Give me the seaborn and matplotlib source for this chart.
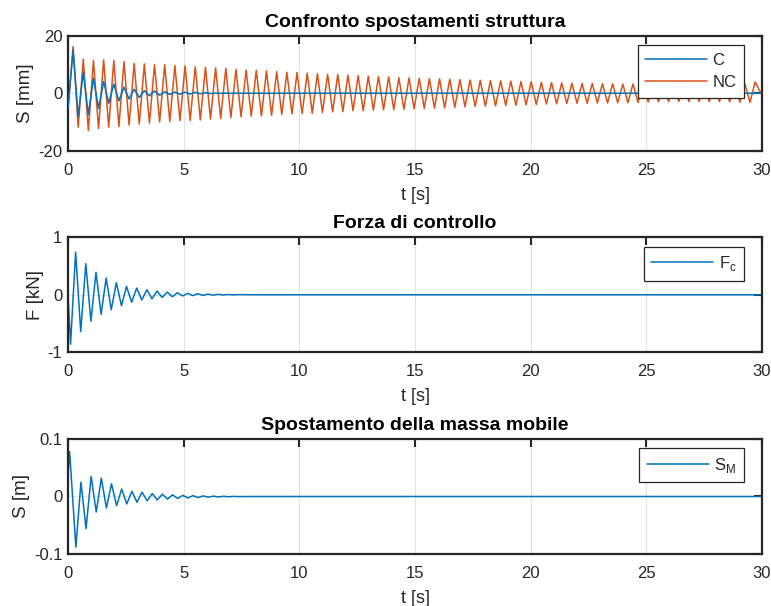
import matplotlib
matplotlib.use("Agg")
import matplotlib.pyplot as plt
import seaborn as sns

# extrema (time [s], value)
nc_t = [0.00, 0.22, 0.44, 0.66, 0.88, 1.10, 1.32, 1.54, 1.76, 1.98, 2.20, 2.42, 2.64, 2.86, 3.08,
        3.30, 3.52, 3.74, 3.96, 4.18, 4.40, 4.62, 4.84, 5.06, 5.28, 5.50, 5.72, 5.94, 6.16, 6.38,
        6.60, 6.82, 7.04, 7.26, 7.48, 7.70, 7.92, 8.14, 8.36, 8.58, 8.80, 9.02, 9.24, 9.46, 9.68,
        9.90, 10.12, 10.34, 10.56, 10.78, 11.00, 11.22, 11.44, 11.66, 11.88, 12.10, 12.32, 12.54,
        12.76, 12.98, 13.20, 13.42, 13.64, 13.86, 14.08, 14.30, 14.52, 14.74, 14.96, 15.18, 15.40,
        15.62, 15.84, 16.06, 16.28, 16.50, 16.72, 16.94, 17.16, 17.38, 17.60, 17.82, 18.04, 18.26,
        18.48, 18.70, 18.92, 19.14, 19.36, 19.58, 19.80, 20.02, 20.24, 20.46, 20.68, 20.90, 21.12,
        21.34, 21.56, 21.78, 22.00, 22.22, 22.44, 22.66, 22.88, 23.10, 23.32, 23.54, 23.76, 23.98,
        24.20, 24.42, 24.64, 24.86, 25.08, 25.30, 25.52, 25.74, 25.96, 26.18, 26.40, 26.62, 26.84,
        27.06, 27.28, 27.50, 27.72, 27.94, 28.16, 28.38, 28.60, 28.82, 29.04, 29.26, 29.48, 29.70,
        30.00]
nc_s = [-5.6, 16.2, -11.8, 11.8, -13.0, 11.4, -12.3, 11.6, -11.8, 11.4, -11.6, 11.0, -11.1, 10.4, -10.7,
        10.2, -10.4, 9.9, -10.0, 9.9, -9.9, 9.6, -9.5, 9.5, -9.5, 9.2, -9.3, 9.0, -9.0, 8.8,
        -8.8, 8.6, -8.5, 8.3, -8.2, 8.1, -8.0, 8.0, -7.9, 7.8, -7.7, 7.5, -7.4, 7.3, -7.2,
        7.2, -7.1, 7.0, -7.0, 6.8, -6.7, 6.6, -6.5, 6.5, -6.4, 6.3, -6.1, 6.1,
        -6.1, 5.9, -5.9, 5.8, -5.8, 5.7, -5.7, 5.4, -5.6, 5.3, -5.4, 5.2, -5.3,
        5.1, -5.2, 5.0, -5.1, 4.9, -4.9, 4.75, -4.75, 4.6, -4.6, 4.5, -4.5, 4.4,
        -4.4, 4.3, -4.3, 4.2, -4.2, 4.05, -4.05, 3.95, -3.95, 3.8, -3.8, 3.7, -3.7,
        3.6, -3.6, 3.5, -3.5, 3.4, -3.5, 3.4, -3.4, 3.3, -3.4, 3.3, -3.3, 3.2,
        -3.3, 3.2, -3.2, 3.1, -3.1, 3.0, -3.0, 3.0, -2.9, 2.9, -2.9, 2.9, -2.9,
        2.9, -2.9, 2.9, -2.9, 2.9, -2.9, 3.0, -3.0, 3.0, -3.1, 3.2, -3.2, 3.9,
        -0.7]

c_t = [0.00, 0.22, 0.44, 0.66, 0.88, 1.10, 1.32, 1.54, 1.76, 1.98, 2.20, 2.42, 2.64, 2.86, 3.08,
       3.30, 3.52, 3.74, 3.96, 4.18, 4.40, 4.62, 4.84, 5.06, 5.28, 5.50, 5.72, 5.94, 6.16, 6.38,
       6.60, 6.82, 7.04, 7.50, 30.00]
c_s = [-5.2, 15.1, -8.1, 7.4, -7.5, 5.2, -5.3, 4.1, -3.5, 3.2, -2.7, 2.1, -2.0, 1.4, -1.5,
       0.9, -0.9, 0.8, -0.7, 0.5, -0.45, 0.4, -0.35, 0.35, -0.3, 0.3, -0.2, 0.2, -0.12, 0.1,
       -0.06, 0.05, -0.03, 0.0, 0.0]

f_t = [0.00, 0.11, 0.33, 0.55, 0.77, 0.99, 1.21, 1.43, 1.65, 1.87, 2.09, 2.31, 2.53, 2.75, 2.97,
       3.19, 3.41, 3.63, 3.85, 4.07, 4.29, 4.51, 4.73, 4.95, 5.17, 5.39, 5.61, 5.83, 6.05, 6.27,
       6.49, 6.71, 6.93, 7.15, 7.37, 8.00, 30.00]
f_kn = [0.0, -0.86, 0.74, -0.64, 0.54, -0.46, 0.39, -0.34, 0.29, -0.26, 0.21, -0.19, 0.145, -0.13, 0.116,
        -0.09, 0.087, -0.07, 0.064, -0.046, 0.046, -0.035, 0.035, -0.02, 0.025, -0.015, 0.018, -0.01, 0.012, -0.007,
        0.008, -0.004, 0.005, -0.002, 0.003, 0.0, 0.0]

sm_t = [0.00, 0.07, 0.34, 0.56, 0.78, 1.00, 1.22, 1.44, 1.66, 1.88, 2.10, 2.32, 2.54, 2.76, 2.98,
        3.20, 3.42, 3.64, 3.86, 4.08, 4.30, 4.52, 4.74, 4.96, 5.18, 5.40, 5.62, 5.84, 6.06, 6.28,
        6.50, 6.72, 6.94, 7.16, 7.38, 8.00, 30.00]
sm_m = [0.039, 0.078, -0.088, 0.025, -0.056, 0.035, -0.027, 0.032, -0.020, 0.022, -0.016, 0.013, -0.013, 0.009, -0.010,
        0.0075, -0.0075, 0.005, -0.006, 0.004, -0.0045, 0.003, -0.0035, 0.002, -0.0025, 0.0015, -0.0018, 0.001, -0.0012, 0.0007,
        -0.0008, 0.0004, -0.0005, 0.0002, -0.0002, 0.0, 0.0]

x_ticks = [0, 5, 10, 15, 20, 25, 30]

sns.set_theme(style="white")
plt.rcParams['font.family'] = ['Liberation Sans', 'DejaVu Sans']
plt.rcParams['axes.unicode_minus'] = False
plt.rcParams['mathtext.fontset'] = 'custom'
plt.rcParams['mathtext.rm'] = 'Liberation Sans'

blue = '#0072BD'
orange = '#D95319'
dark = '#262626'

fig = plt.figure(figsize=(7.71, 6.06), dpi=100)
rects = [[0.0882, 0.7513, 0.9002, 0.1898],
         [0.0882, 0.4187, 0.9002, 0.1898],
         [0.0882, 0.0858, 0.9002, 0.1898]]
axes = [fig.add_axes(r) for r in rects]


def style_axis(ax, yticks, ylabels, ylim, title, ylabel):
    ax.set_xlim(0, 30)
    ax.set_ylim(*ylim)
    ax.set_xticks(x_ticks)
    ax.set_xticklabels([str(v) for v in x_ticks])
    ax.set_yticks(yticks)
    ax.set_yticklabels(ylabels)
    ax.tick_params(direction='in', length=6, width=1.5, color=dark, labelsize=12,
                   labelcolor=dark, top=True, right=True)
    ax.tick_params(axis='x', pad=8.5)
    ax.tick_params(axis='y', pad=4)
    for sp in ax.spines.values():
        sp.set_color(dark)
        sp.set_linewidth(1.6)
    ax.grid(True, color='#e3e3e3', linewidth=0.8)
    ax.set_axisbelow(True)
    ax.set_title(title, fontsize=14, fontweight='bold', color='black', pad=6.5)
    ax.set_xlabel('t [s]', fontsize=13, color=dark, labelpad=6.5)
    ax.set_ylabel(ylabel, fontsize=13.5, color=dark, labelpad=3)


def legend(ax, handles=None, labels=None):
    if handles is None:
        handles, labels = ax.get_legend_handles_labels()
    leg = ax.legend(handles, labels, loc='upper right', bbox_to_anchor=(0.974, 0.919),
                    borderaxespad=0, fontsize=12, frameon=True, fancybox=False,
                    framealpha=1, handlelength=3.7, handletextpad=0.35,
                    borderpad=0.45, labelspacing=0.45)
    leg.get_frame().set_edgecolor(dark)
    leg.get_frame().set_linewidth(0.9)
    leg.get_frame().set_facecolor('white')


# 1. displacements with / without control
ax = axes[0]
sns.lineplot(x=nc_t, y=nc_s, ax=ax, color=orange, linewidth=1.1, estimator=None, sort=False,
             label='NC', zorder=2)
sns.lineplot(x=c_t, y=c_s, ax=ax, color=blue, linewidth=1.1, estimator=None, sort=False,
             label='C', zorder=3)
style_axis(ax, [-20, 0, 20], ['-20', '0', '20'], (-20, 20),
           'Confronto spostamenti struttura', 'S [mm]')
h, l = ax.get_legend_handles_labels()
legend(ax, h[::-1], l[::-1])

# 2. control force
ax = axes[1]
sns.lineplot(x=f_t, y=f_kn, ax=ax, color=blue, linewidth=1.1, estimator=None, sort=False,
             label=r'F$_\mathregular{c}$')
style_axis(ax, [-1, 0, 1], ['-1', '0', '1'], (-1, 1), 'Forza di controllo', 'F [kN]')
legend(ax)

# 3. moving mass displacement
ax = axes[2]
sns.lineplot(x=sm_t, y=sm_m, ax=ax, color=blue, linewidth=1.1, estimator=None, sort=False,
             label=r'S$_\mathregular{M}$')
style_axis(ax, [-0.1, 0, 0.1], ['-0.1', '0', '0.1'], (-0.1, 0.1),
           'Spostamento della massa mobile', 'S [m]')
legend(ax)

fig.savefig('out.png', dpi=100)
